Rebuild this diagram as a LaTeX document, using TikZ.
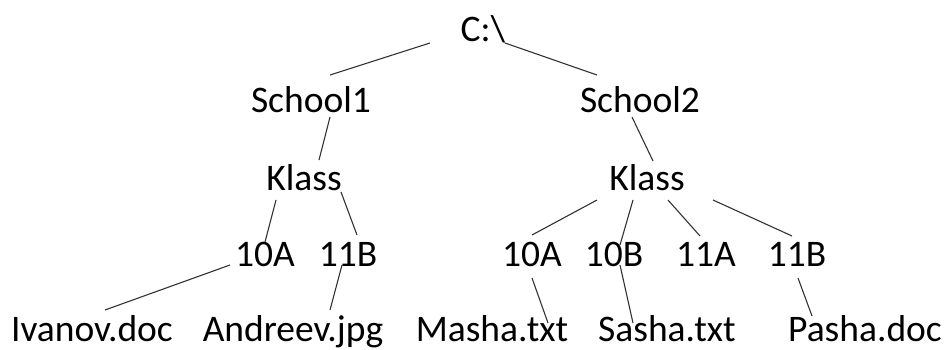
\documentclass[tikz,border=0pt]{standalone}
\usepackage{fontspec}
\setmainfont{Carlito}
\usetikzlibrary{calc}
\definecolor{LINE-GRAY}{RGB}{50, 50, 50}

\begin{document}
\begin{tikzpicture}[x=1pt, y=-1pt,
  lbl/.style={anchor=base, inner sep=0pt, font=\fontsize{37.5}{42}\selectfont},
  link/.style={LINE-GRAY, line width=1.1pt}]
  \useasboundingbox (0,0) rectangle (945,350);

  % Root and schools
  \node[lbl] (root) at (483,42) {C:\textbackslash};
  \node[lbl] (s1) at (311,113) {School1};
  \node[lbl] (s2) at (640,113) {School2};

  % Klass level
  \node[lbl] (k1) at (304,190) {Klass};
  \node[lbl] (k2) at (647,190) {Klass};

  % Classes
  \node[lbl] (a1) at (265,266) {10A};
  \node[lbl] (b1) at (348,266) {11B};
  \node[lbl] (a2) at (532,266) {10A};
  \node[lbl] (b2) at (614,266) {10B};
  \node[lbl] (c2) at (706,266) {11A};
  \node[lbl] (d2) at (797,266) {11B};

  % Files
  \node[lbl] (iv) at (92,341) {Ivanov.doc};
  \node[lbl] (an) at (293,341) {Andreev.jpg};
  \node[lbl] (ma) at (492,341) {Masha.txt};
  \node[lbl] (sa) at (667,341) {Sasha.txt};
  \node[lbl] (pa) at (865,341) {Pasha.doc};

  % Links
  \draw[link] ($(root.base)+(-53,1)$) -- ($(s1.base)+(19,-38)$);
  \draw[link] ($(root.base)+(22,1)$) -- ($(s2.base)+(-43,-38)$);
  \draw[link] ($(s1.base)+(19,4)$) -- ($(k1.base)+(15,-30)$);
  \draw[link] ($(s2.base)+(-8,4)$) -- ($(k2.base)+(6,-29)$);
  \draw[link] ($(k1.base)+(-28,10)$) -- ($(a1.base)+(0,-24)$);
  \draw[link] ($(k1.base)+(37,2)$) -- ($(b1.base)+(9,-31)$);
  \draw[link] ($(a1.base)+(-35,-1)$) -- ($(iv.base)+(13,-31)$);
  \draw[link] ($(b1.base)+(-6,-1)$) -- ($(an.base)+(37,-31)$);
  \draw[link] ($(k2.base)+(-50,10)$) -- ($(a2.base)+(0,-31)$);
  \draw[link] ($(k2.base)+(-14,10)$) -- ($(b2.base)+(6,-21)$);
  \draw[link] ($(k2.base)+(21,10)$) -- ($(c2.base)+(-6,-30)$);
  \draw[link] ($(k2.base)+(66,10)$) -- ($(d2.base)+(-5,-30)$);
  \draw[link] ($(a2.base)+(0,12)$) -- ($(ma.base)+(56,-18)$);
  \draw[link] ($(b2.base)+(6,-1)$) -- ($(sa.base)+(-34,-18)$);
  \draw[link] ($(d2.base)+(1,12)$) -- ($(pa.base)+(-53,-25)$);
\end{tikzpicture}
\end{document}
